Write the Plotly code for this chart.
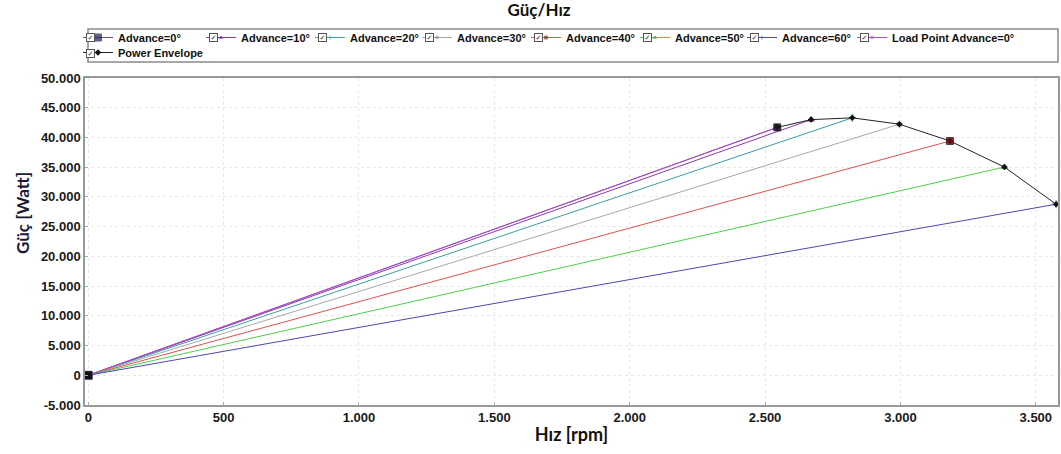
import plotly.graph_objects as go

# Operating end points (speed in rpm, power in W) for each advance angle
advance_names = ["Advance=0°", "Advance=10°", "Advance=20°", "Advance=30°",
                 "Advance=40°", "Advance=50°", "Advance=60°"]
end_speed = [2545, 2670, 2822, 2996, 3183, 3384, 3575]
end_power = [41700, 43000, 43300, 42230, 39400, 35020, 28770]
line_colors = ["#7b3fa8", "#8a3aa8", "#3a9fa0", "#a8a8a8", "#d9534f", "#4cd04c", "#4a4aa8"]
marker_colors = ["#1c1c5c", "#6a2a8a", "#3a9fa0", "#808080", "#b02020", "#3aa83a", "#4a4aa8"]
marker_symbols = ["square", "triangle-up", "cross-thin", "asterisk", "square", "triangle-up", "cross-thin"]

# Load point line for advance 0°
load_speed = [0, 2545]
load_power = [0, 41700]

# Axis ticks
x_ticks = [0, 500, 1000, 1500, 2000, 2500, 3000, 3500]
x_labels = ["0", "500", "1.000", "1.500", "2.000", "2.500", "3.000", "3.500"]
y_ticks = [-5000, 0, 5000, 10000, 15000, 20000, 25000, 30000, 35000, 40000, 45000, 50000]
y_labels = ["-5.000", "0", "5.000", "10.000", "15.000", "20.000", "25.000", "30.000",
            "35.000", "40.000", "45.000", "50.000"]

W, H = 1061, 454
M_L, M_R, M_T, M_B = 85, 3, 78, 49
PW, PH = W - M_L - M_R, H - M_T - M_B


def px_x(px):
    return (px - M_L) / PW


def px_y(py):
    return (H - M_B - py) / PH


# Legend layout: text start (px) and row centre (px) of each entry
LEGEND_TEXT_X = [119, 242, 351, 458, 567, 676, 783, 893, 119]
LEGEND_ROW_Y = [38, 38, 38, 38, 38, 38, 38, 38, 53]
legend_ids = ["legend"] + ["legend%d" % k for k in range(2, 10)]

fig = go.Figure()

for i, name in enumerate(advance_names):
    fig.add_trace(go.Scatter(
        x=[0, end_speed[i]], y=[0, end_power[i]], name=name, mode="lines+markers",
        legend=legend_ids[i],
        line=dict(color=line_colors[i], width=1),
        marker=dict(symbol=marker_symbols[i], size=[8, 6] if i == 0 else [0, 6],
                    color=marker_colors[i],
                    line=dict(color=marker_colors[i], width=1)),
    ))

fig.add_trace(go.Scatter(
    x=load_speed, y=load_power, name="Load Point Advance=0°", mode="lines+markers",
    legend=legend_ids[7],
    line=dict(color="#b04ad0", width=1),
    marker=dict(symbol="asterisk", size=[0, 6], color="#b04ad0", line=dict(color="#b04ad0", width=1)),
))

fig.add_trace(go.Scatter(
    x=end_speed, y=end_power, name="Power Envelope", mode="lines+markers",
    legend=legend_ids[8],
    line=dict(color="#222222", width=1),
    marker=dict(symbol="diamond", size=5, color="#111111"),
))

# Origin marker of the advance 0° series drawn on top
fig.add_trace(go.Scatter(
    x=[0], y=[0], mode="markers", showlegend=False, hoverinfo="skip",
    marker=dict(symbol="square", size=8, color="#111111"),
))
fig.add_trace(go.Scatter(
    x=[end_speed[0], end_speed[4]], y=[end_power[0], end_power[4]], mode="markers",
    showlegend=False, hoverinfo="skip",
    marker=dict(symbol="square", size=[7, 7], color=["#1a1a1a", "#7a1010"],
                line=dict(color="#111111", width=1)),
))

tick_font = dict(family="Liberation Sans, Arial", size=13, color="#1a1a1a", weight="bold")
legend_font = dict(family="Liberation Sans, Arial", size=11, color="#111111", weight="bold")

legends = {}
for lid, tx, ty in zip(legend_ids, LEGEND_TEXT_X, LEGEND_ROW_Y):
    legends[lid] = dict(orientation="h", xref="container", x=(tx - 41) / W, xanchor="left",
                        yref="container", y=1 - (ty - 15) / H, yanchor="top",
                        bgcolor="rgba(0,0,0,0)", borderwidth=0, font=legend_font,
                        itemwidth=30, tracegroupgap=0)
fig.update_layout(**legends)

# Legend frame and check boxes
fig.add_shape(type="rect", xref="paper", yref="paper",
              x0=px_x(88), x1=px_x(1058), y0=px_y(62), y1=px_y(29),
              line=dict(color="#8a8a8a", width=1.5), fillcolor="rgba(0,0,0,0)")

for tx, ty in zip(LEGEND_TEXT_X, LEGEND_ROW_Y):
    fig.add_annotation(xref="paper", yref="paper", x=px_x(tx - 29), y=px_y(ty),
                       xanchor="center", yanchor="middle",
                       text="✓", showarrow=False, width=7, height=7,
                       font=dict(size=7, color="#222222", family="DejaVu Sans"),
                       bgcolor="white", bordercolor="#555555", borderwidth=1, borderpad=0)

# Vertical axis title
fig.add_annotation(xref="paper", yref="paper", x=px_x(22), y=px_y(213),
                   xanchor="center", yanchor="middle", textangle=-90, showarrow=False,
                   text="<b>Güç [Watt]</b>",
                   font=dict(family="Lato, Open Sans", size=17, color="#1a1a3a"))

fig.update_layout(
    width=W, height=H,
    margin=dict(l=M_L, r=M_R, t=M_T, b=M_B, autoexpand=False),
    paper_bgcolor="white", plot_bgcolor="white",
    title=dict(text="<b>Güç/Hız</b>", x=539 / W, xanchor="center",
               yref="container", y=0.99, yanchor="top",
               font=dict(family="Lato, Open Sans", size=17, color="#111111")),
    xaxis=dict(range=[-12, 3582], tickvals=x_ticks, ticktext=x_labels,
               tickfont=tick_font, showgrid=True,
               gridcolor="#e8e8e8", griddash="dot", zeroline=False,
               showline=True, linecolor="#999999", linewidth=1.5, mirror=True,
               ticks="inside", ticklen=3, tickcolor="#aaaaaa",
               title=dict(text="<b>Hız [rpm]</b>", standoff=4,
                          font=dict(family="Lato, Open Sans", size=18, color="#111111"))),
    yaxis=dict(range=[-5000, 50000], tickvals=y_ticks, ticktext=y_labels, tickfont=tick_font,
               showgrid=True, gridcolor="#e8e8e8", griddash="dot", zeroline=False,
               showline=True, linecolor="#999999", linewidth=1.5, mirror=True,
               ticks="inside", ticklen=3, tickcolor="#aaaaaa"),
)

fig.write_html("out.html")
